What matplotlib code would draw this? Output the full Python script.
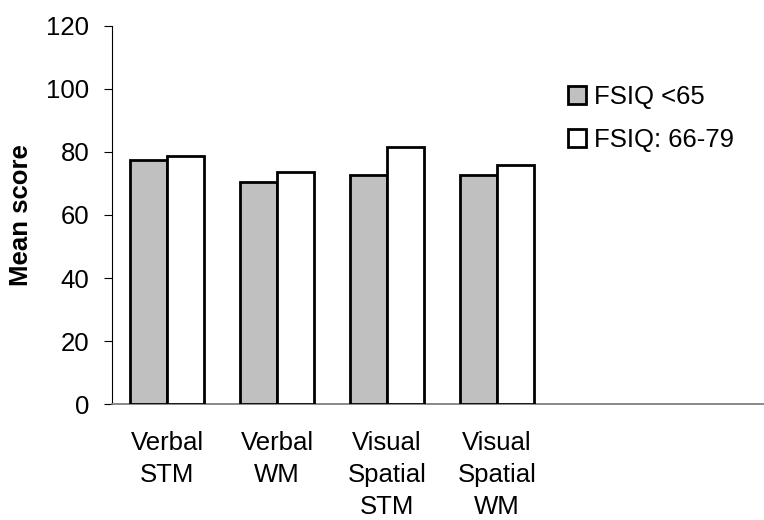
import matplotlib
matplotlib.use("Agg")
import matplotlib.pyplot as plt
import numpy as np

plt.rcParams['font.family'] = ['Liberation Sans', 'DejaVu Sans']

categories = ["Verbal\nSTM", "Verbal\nWM", "Visual\nSpatial\nSTM", "Visual\nSpatial\nWM"]
series_names = ["FSIQ <65", "FSIQ: 66-79"]
fsiq_low = [77.4, 70.4, 72.7, 72.7]
fsiq_mid = [78.7, 73.7, 81.4, 75.8]
y_ticks = [0, 20, 40, 60, 80, 100, 120]

FS = 18.5

fig = plt.figure(figsize=(7.64, 5.20), dpi=100)
ax = fig.add_axes([112.3 / 764, 1 - 404.3 / 520, 651.5 / 764, (404.3 - 25.7) / 520])

x = np.arange(len(categories))
w = 0.335
ax.bar(x - w / 2, fsiq_low, width=w, color="#c0c0c0", edgecolor="black",
       linewidth=2.0, label=series_names[0], zorder=3)
ax.bar(x + w / 2, fsiq_mid, width=w, color="white", edgecolor="black",
       linewidth=2.0, label=series_names[1], zorder=3)

ax.set_xlim(-0.497, 5.425)
ax.set_ylim(0, 120)
ax.set_yticks(y_ticks)
ax.set_xticks(x)
ax.set_xticklabels(categories, fontsize=FS, linespacing=1.42)
ax.tick_params(axis="x", length=0, pad=19)
ax.tick_params(axis="y", length=5.5, width=0.8, direction="out", pad=11, labelsize=FS)

for side in ("top", "right"):
    ax.spines[side].set_visible(False)
ax.spines["left"].set_linewidth(0.8)
ax.spines["left"].set_color("black")
ax.spines["bottom"].set_linewidth(1.3)
ax.spines["bottom"].set_color("#808080")

fig.text(21 / 764, 1 - 215 / 520, "Mean score", rotation=90, fontsize=FS,
         fontweight="bold", ha="center", va="center")

ax.legend(loc="upper left", bbox_to_anchor=(568 / 764, 1 - 85 / 520),
          bbox_transform=fig.transFigure, frameon=False, fontsize=FS,
          handlelength=0.7, handleheight=0.7, handletextpad=0.3,
          labelspacing=0.72, borderpad=0, borderaxespad=0)

fig.savefig("out.png", dpi=100)
